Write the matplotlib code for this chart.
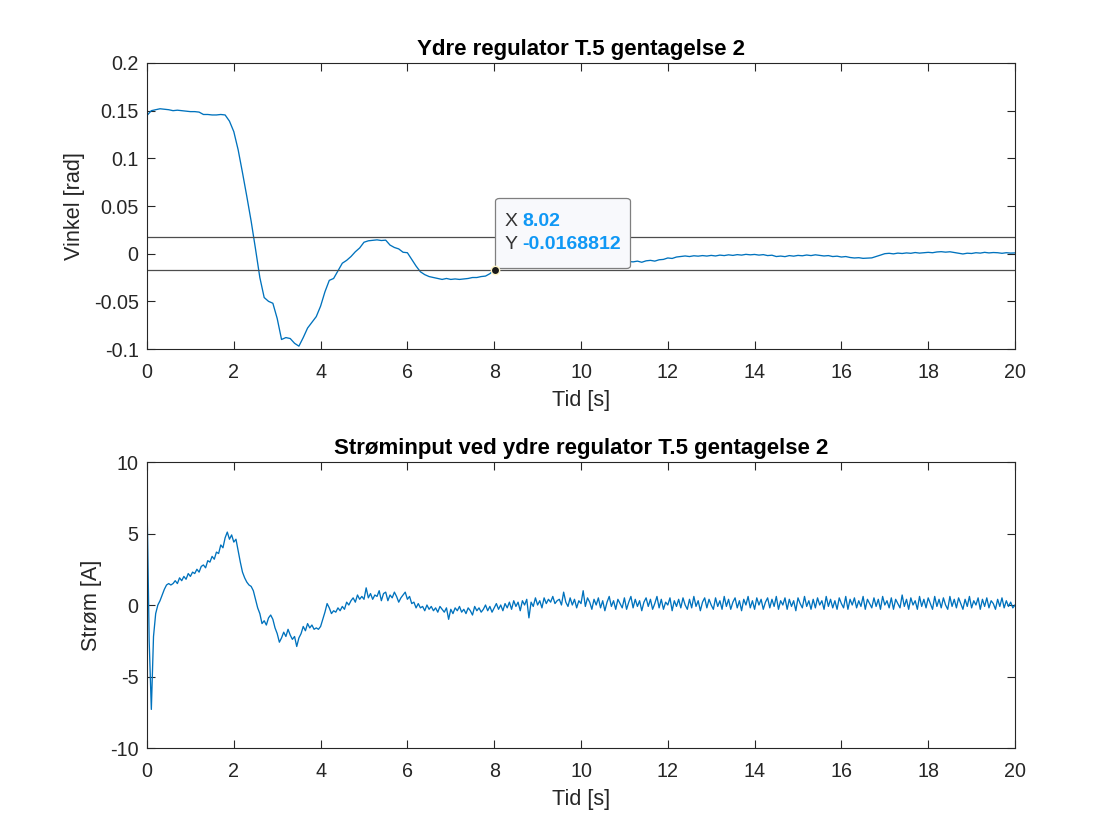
import numpy as np
import matplotlib
matplotlib.use("Agg")
import matplotlib.pyplot as plt
from matplotlib.offsetbox import TextArea, HPacker, VPacker, AnnotationBbox, DrawingArea

plt.rcParams['font.family'] = ['Liberation Sans', 'DejaVu Sans']
plt.rcParams['axes.unicode_minus'] = False

# ---------------- data ----------------
angle_dt = 0.1
angle = [
    0.145, 0.150, 0.151, 0.152, 0.1515, 0.151, 0.150, 0.1505, 0.150, 0.1495,
    0.149, 0.149, 0.1485, 0.146, 0.146, 0.1455, 0.1455, 0.146, 0.1455, 0.139,
    0.128, 0.109, 0.085, 0.060, 0.034, 0.005, -0.025, -0.046, -0.050, -0.052,
    -0.068, -0.090, -0.088, -0.089, -0.094, -0.097, -0.088, -0.078, -0.072, -0.066,
    -0.055, -0.040, -0.028, -0.026, -0.018, -0.010, -0.007, -0.003, 0.002, 0.006,
    0.012, 0.0135, 0.014, 0.0145, 0.0138, 0.0142, 0.009, 0.0065, 0.005, 0.0015,
    0.001, -0.006, -0.013, -0.019, -0.022, -0.024, -0.025, -0.026, -0.027, -0.026,
    -0.027, -0.0265, -0.027, -0.0265, -0.026, -0.025, -0.025, -0.024, -0.0235, -0.021,
    -0.017, -0.0155, -0.015, -0.0145, -0.014, -0.0135, -0.013, -0.0125, -0.012, -0.0118,
    -0.0115, -0.011, -0.011, -0.0105, -0.010, -0.010, -0.0098, -0.0095, -0.0093, -0.009,
    -0.009, -0.0088, -0.0087, -0.0086, -0.0085, -0.0086, -0.0084, -0.0085, -0.0083, -0.0084,
    -0.0084, -0.0082, -0.0086, -0.0078, -0.0090, -0.0075, -0.0070, -0.0078, -0.0064, -0.0060,
    -0.0045, -0.0050, -0.0035, -0.0030, -0.0024, -0.0030, -0.0022, -0.0026, -0.0020, -0.0025,
    -0.0018, -0.0024, -0.0015, -0.0020, -0.0012, -0.0018, -0.0010, -0.0015, -0.0007, -0.0012,
    -0.0008, -0.0015, -0.0010, -0.0020, -0.0016, -0.0030, -0.0025, -0.0031, -0.0020, -0.0026,
    -0.0018, -0.0022, -0.0014, -0.0020, -0.0012, -0.0018, -0.0024, -0.0020, -0.0030, -0.0026,
    -0.0035, -0.0030, -0.0040, -0.0045, -0.0042, -0.0049, -0.0046, -0.0044, -0.0030, -0.0015,
    0.0000, 0.0004, -0.0002, 0.0006, 0.0002, 0.0008, 0.0004, 0.0012, 0.0006, 0.0010,
    0.0014, 0.0010, 0.0018, 0.0021, 0.0016, 0.0020, 0.0012, 0.0004, -0.0003, 0.0005,
    0.0002, 0.0010, 0.0006, 0.0014, 0.0008, 0.0012, 0.0010, 0.0004, 0.0010, 0.0006,
    0.0008,
]

current_dt = 0.05
current = [
    7.5, -2.5, -7.3, -2.2, -0.6, 0.0, 0.3, 0.7, 1.1, 1.4, 1.5, 1.4, 1.5, 1.7, 1.5, 1.9, 1.7, 2.0, 1.8, 2.2,
    2.0, 2.3, 2.2, 2.5, 2.3, 2.7, 2.8, 2.6, 3.1, 3.0, 3.4, 3.2, 3.7, 3.6, 4.2, 4.0, 4.7, 5.1, 4.6, 4.9,
    4.4, 4.6, 3.8, 3.0, 2.3, 1.9, 1.6, 1.4, 1.3, 1.0, 0.4, -0.2, -0.6, -1.3, -1.1, -1.4, -0.9, -0.7, -1.0, -1.6,
    -2.0, -2.6, -2.3, -1.9, -2.2, -1.7, -2.1, -2.4, -2.2, -2.9, -2.3, -2.0, -1.5, -1.8, -1.3, -1.6, -1.4, -1.7, -1.6, -1.7,
    -1.5, -1.0, -0.5, 0.1, -0.2, -0.6, -0.4, -0.5, -0.2, -0.4, -0.1, -0.3, 0.2, 0.0, 0.3, 0.5, 0.2, 0.7, 0.4, 0.6,
    0.4, 1.2, 0.5, 0.8, 0.4, 0.7, 0.6, 1.0, 0.3, 0.8, 0.9, 0.3, 0.7, 0.5, 0.9, 0.6, 0.2, 0.5, 0.7, 0.9,
    0.4, 0.6, 0.1, 0.2, -0.2, 0.1, -0.2, -0.1, -0.4, 0.0, -0.3, -0.1, -0.4, -0.2, -0.5, -0.1, -0.3, -0.5, -0.2, -1.0,
    -0.3, -0.6, -0.2, -0.4, -0.1, -0.5, -0.3, -0.6, -0.2, -0.4, -0.7, -0.1, -0.4, -0.2, -0.5, -0.3, 0.0, -0.4, -0.1, -0.5,
    -0.2, 0.1, -0.3, 0.0, -0.4, 0.1, -0.2, 0.2, -0.3, 0.3, -0.1, 0.2, -0.4, 0.3, 0.0, 0.4, -0.9, 0.2, -0.1, 0.5,
    0.0, 0.3, -0.2, 0.5, 0.1, 0.4, 0.2, 0.6, 0.1, 0.3, 0.4, 0.0, 0.9, 0.2, -0.1, 0.5, 0.0, 0.4, -0.2, 0.3,
    0.1, 1.0, -0.1, 0.5, 0.2, -0.3, 0.4, 0.0, 0.5, -0.2, 0.3, -0.4, 0.2, 0.6, -0.1, 0.3, -0.3, 0.4, 0.1, -0.2,
    0.5, -0.3, 0.2, 0.6, -0.2, 0.4, -0.1, 0.3, -0.4, 0.2, 0.5, -0.1, 0.4, -0.3, 0.1, 0.6, -0.2, 0.4, -0.3, 0.2,
    0.0, 0.5, -0.4, 0.3, -0.1, 0.4, -0.2, 0.5, 0.0, -0.3, 0.4, -0.2, 0.6, -0.1, 0.3, -0.4, 0.2, 0.5, -0.2, 0.4,
    0.0, -0.3, 0.5, -0.1, 0.3, -0.3, 0.6, -0.1, 0.4, -0.3, 0.2, 0.5, -0.2, 0.3, -0.4, 0.4, 0.0, 0.6, -0.2, 0.3,
    -0.3, 0.5, 0.0, 0.4, -0.3, 0.2, 0.5, -0.2, 0.4, -0.1, 0.6, -0.3, 0.3, 0.0, 0.5, -0.3, 0.4, -0.1, 0.3, -0.4,
    0.5, 0.1, -0.2, 0.6, -0.1, 0.3, -0.3, 0.4, -0.2, 0.5, 0.0, 0.3, -0.3, 0.6, -0.1, 0.4, -0.2, 0.3, -0.3, 0.5,
    0.1, -0.2, 0.6, -0.3, 0.4, 0.0, 0.5, -0.2, 0.3, -0.1, 0.6, -0.3, 0.4, 0.1, -0.2, 0.5, -0.1, 0.4, -0.3, 0.6,
    0.0, 0.3, -0.2, 0.5, -0.3, 0.4, 0.1, -0.2, 0.7, -0.1, 0.4, -0.3, 0.5, 0.0, 0.3, -0.3, 0.6, -0.1, 0.4, -0.2,
    0.5, 0.1, -0.3, 0.6, -0.1, 0.4, -0.2, 0.5, 0.0, -0.3, 0.6, -0.1, 0.4, -0.2, 0.5, 0.1, -0.3, 0.4, -0.1, 0.6,
    -0.2, 0.3, 0.0, 0.5, -0.3, 0.4, -0.1, 0.5, -0.2, 0.3, 0.1, -0.3, 0.4, -0.1, 0.5, -0.2, 0.3, -0.1, 0.2, -0.2,
    0.0,
]

band = [0.0175, -0.0175]
tip_x, tip_y = 8.02, -0.0168812
tip_x_label, tip_y_label = "8.02", "-0.0168812"

xticks = [0, 2, 4, 6, 8, 10, 12, 14, 16, 18, 20]
yticks_top = [0.2, 0.15, 0.1, 0.05, 0, -0.05, -0.1]
yticklabels_top = ["0.2", "0.15", "0.1", "0.05", "0", "-0.05", "-0.1"]
yticks_bot = [10, 5, 0, -5, -10]

title_top = "Ydre regulator T.5 gentagelse 2"
title_bot = "Strøminput ved ydre regulator T.5 gentagelse 2"
xlabel = "Tid [s]"
ylabel_top = "Vinkel [rad]"
ylabel_bot = "Strøm [A]"

t_angle = np.arange(len(angle)) * angle_dt
t_current = np.arange(len(current)) * current_dt

# ---------------- style ----------------
LINE = '#0072BD'
AXC = '#262626'
TICK_FS = 14.2
LAB_FS = 15.6
TITLE_FS = 16.0

fig = plt.figure(figsize=(11.2, 8.4), dpi=100)
ax1 = fig.add_axes([0.13125, 0.5845, 0.775, 0.3405])
ax2 = fig.add_axes([0.13125, 0.1095, 0.775, 0.3405])


def style(ax):
    for s in ax.spines.values():
        s.set_color(AXC)
        s.set_linewidth(0.8)
    ax.tick_params(direction='in', top=True, right=True, length=6, width=0.8,
                   color=AXC, labelcolor=AXC, labelsize=TICK_FS, pad=10)
    ax.tick_params(axis='y', pad=6)
    ax.set_xlim(0, 20)
    ax.set_xticks(xticks)
    ax.set_xticklabels([str(v) for v in xticks])


# top
ax1.plot(t_angle, angle, color=LINE, lw=0.95)
for b in band:
    ax1.axhline(b, color='#4d4d4d', lw=0.9)
ax1.set_ylim(-0.1, 0.2)
ax1.set_yticks(yticks_top)
ax1.set_yticklabels(yticklabels_top)
style(ax1)
ax1.set_title(title_top, fontsize=TITLE_FS, fontweight='bold', color='black', pad=6)
ax1.set_xlabel(xlabel, fontsize=LAB_FS, color=AXC, labelpad=6)
ax1.set_ylabel(ylabel_top, fontsize=LAB_FS, color=AXC, labelpad=6)

# datatip
ax1.plot([tip_x], [tip_y], 'o', ms=6, mfc='#1a1a1a', mec='#fff6c8', mew=1.0, zorder=6)
FS_TIP = 14.0
row1 = HPacker(children=[TextArea("X", textprops=dict(color='#333333', size=FS_TIP)),
                         TextArea(tip_x_label, textprops=dict(color='#0f98f5', size=FS_TIP, weight='bold'))],
               sep=4, pad=0, align='baseline')
row2 = HPacker(children=[TextArea("Y", textprops=dict(color='#333333', size=FS_TIP)),
                         TextArea(tip_y_label, textprops=dict(color='#0f98f5', size=FS_TIP, weight='bold'))],
               sep=4, pad=0, align='baseline')
vbox = VPacker(children=[DrawingArea(1, 3), row1, row2, DrawingArea(1, 3)],
               sep=4, pad=0, align='left')
hbox = HPacker(children=[DrawingArea(0, 1), vbox, DrawingArea(0, 1)],
               sep=2.2, pad=0, align='center')
ab = AnnotationBbox(hbox, (tip_x, tip_y), xybox=(4.3, 5.2), xycoords='data',
                    boxcoords='offset points', box_alignment=(0, 0), pad=0.65,
                    bboxprops=dict(boxstyle='round,pad=0.4,rounding_size=0.25',
                                   fc='#f8f9fc', ec='#7f7f7f', lw=0.9),
                    frameon=True, zorder=5)
ax1.add_artist(ab)

# bottom
ax2.plot(t_current, current, color=LINE, lw=0.95)
ax2.set_ylim(-10, 10)
ax2.set_yticks(yticks_bot)
ax2.set_yticklabels([str(v) for v in yticks_bot])
style(ax2)
ax2.set_title(title_bot, fontsize=TITLE_FS, fontweight='bold', color='black', pad=6)
ax2.set_xlabel(xlabel, fontsize=LAB_FS, color=AXC, labelpad=6)
ax2.set_ylabel(ylabel_bot, fontsize=LAB_FS, color=AXC, labelpad=6)

fig.savefig("out.png", dpi=100)
